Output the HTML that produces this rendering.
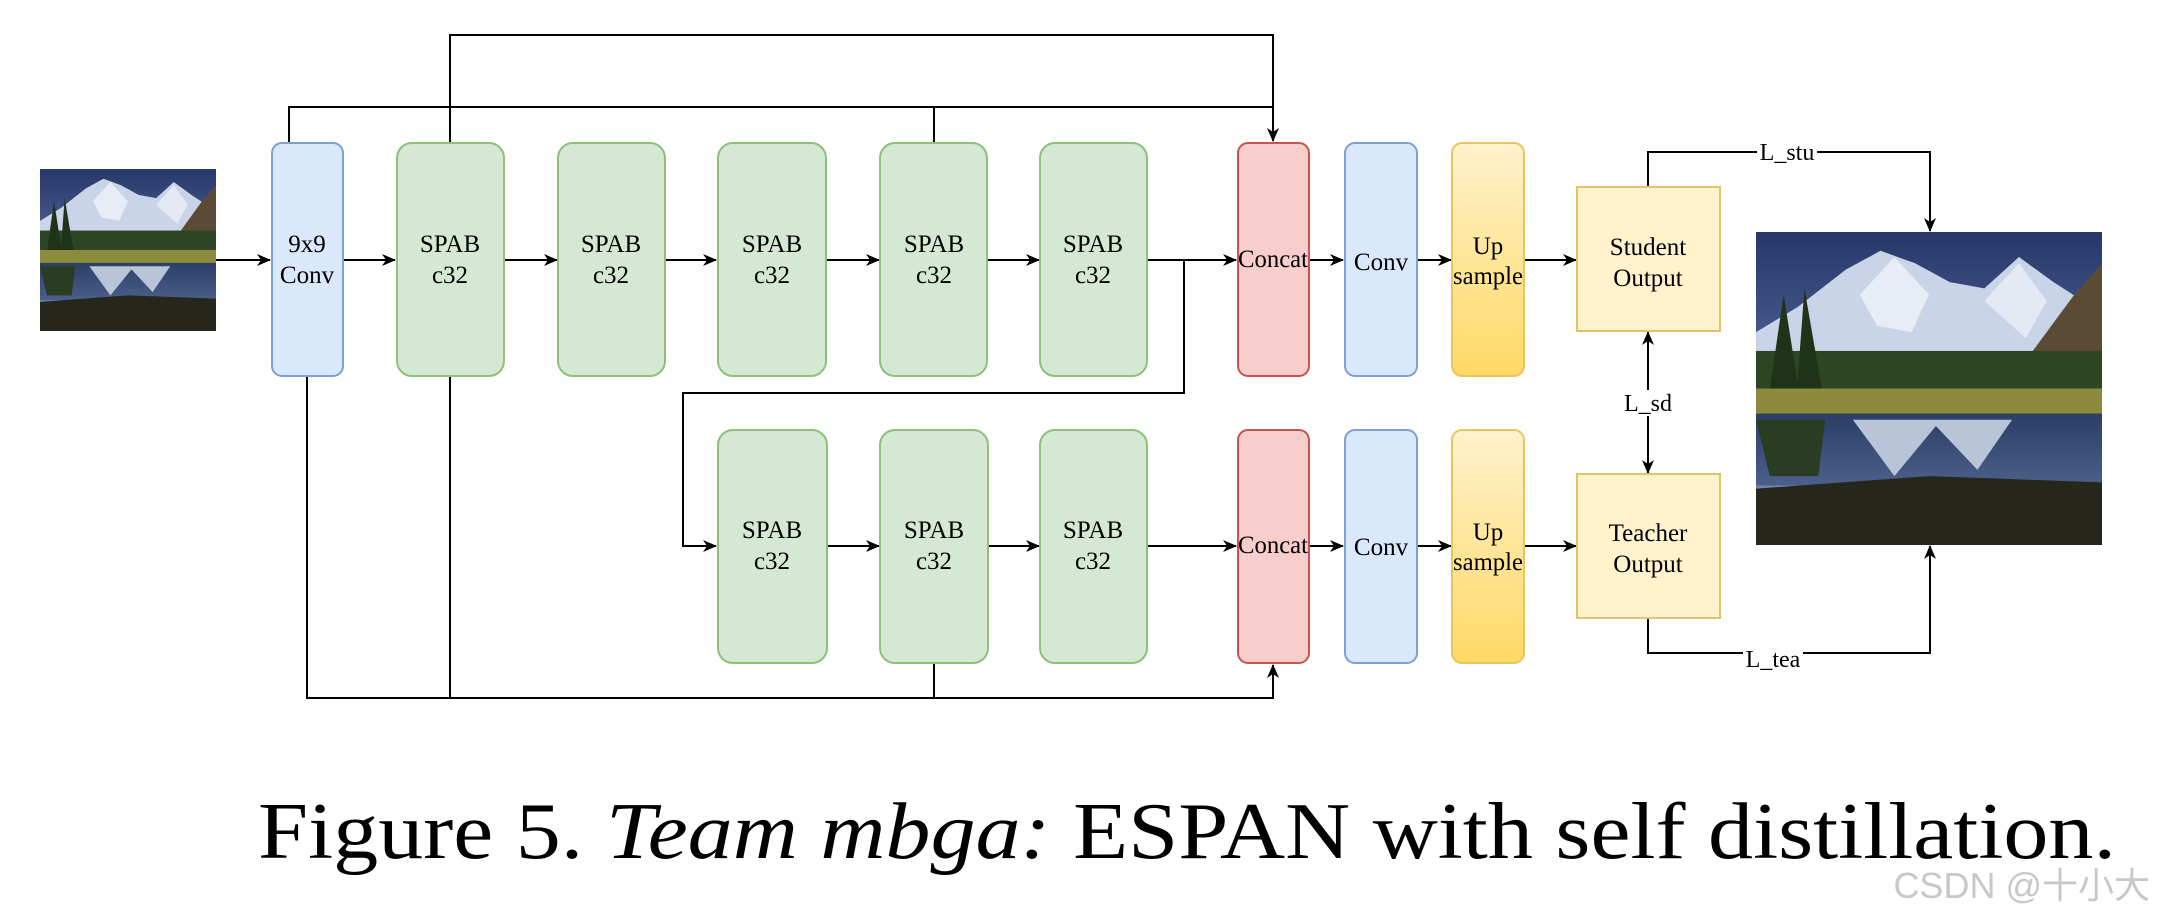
<!DOCTYPE html>
<html><head><meta charset="utf-8"><style>
html,body{margin:0;padding:0;background:#fff;}
svg{display:block;}
text{font-family:"Liberation Serif",serif;fill:#000;}
</style></head><body>
<svg width="2161" height="923" viewBox="0 0 2161 923" xmlns="http://www.w3.org/2000/svg">
<defs>
<marker id="ar" markerWidth="14" markerHeight="12" refX="13" refY="6" orient="auto" markerUnits="userSpaceOnUse">
<path d="M0,0 L14,6 L0,12 L4,6 Z" fill="#000"/>
</marker>
<linearGradient id="up" x1="0" y1="0" x2="0" y2="1"><stop offset="0" stop-color="#fff2cc"/><stop offset="1" stop-color="#ffd966"/></linearGradient>
<linearGradient id="sky" x1="0" y1="0" x2="0" y2="1"><stop offset="0" stop-color="#27376a"/><stop offset="1" stop-color="#7f98c4"/></linearGradient>
<linearGradient id="wat" x1="0" y1="0" x2="0" y2="1"><stop offset="0" stop-color="#2c3e66"/><stop offset="1" stop-color="#4a5f8a"/></linearGradient>
<symbol id="land" viewBox="0 0 100 100" preserveAspectRatio="none">
<rect width="100" height="100" fill="url(#sky)"/>
<polygon points="0,32 12,24 26,12 36,6 46,10 56,16 66,18 76,8 86,16 100,26 100,48 0,48" fill="#c9d4e8"/>
<polygon points="30,20 40,8 50,20 45,32 35,30" fill="#e8edf5"/>
<polygon points="66,22 76,10 84,22 78,34" fill="#e4e9f3"/>
<polygon points="76,44 92,20 100,10 100,48" fill="#5b4a36"/>
<rect y="38" width="100" height="14" fill="#2c4623"/>
<polygon points="4,50 8,20 12,48 14,18 19,50" fill="#1f3318"/>
<rect y="50" width="100" height="9" fill="#8c8a3c"/>
<rect y="58" width="100" height="23" fill="url(#wat)"/>
<polygon points="28,60 40,78 52,62 64,76 74,60" fill="#b9c4d8"/>
<polygon points="0,60 20,60 18,78 4,78" fill="#2a3d22"/>
<polygon points="0,82 50,78 100,80 100,100 0,100" fill="#26271a"/>
</symbol>
</defs>

<svg x="40" y="169" width="176" height="162"><use href="#land" width="176" height="162"/></svg>
<svg x="1756" y="232" width="346" height="313"><use href="#land" width="346" height="313"/></svg>

<g fill="none" stroke="#000" stroke-width="2">
<polyline points="450,143 450,35 1273,35 1273,141" marker-end="url(#ar)"/>
<polyline points="289,143 289,107 1273,107"/>
<line x1="934" y1="143" x2="934" y2="107"/>
<polyline points="307,376 307,698 1273,698 1273,665" marker-end="url(#ar)"/>
<line x1="450" y1="376" x2="450" y2="698"/>
<line x1="934" y1="663" x2="934" y2="698"/>
<line x1="216" y1="260" x2="270" y2="260" marker-end="url(#ar)"/>
<line x1="343" y1="260" x2="395" y2="260" marker-end="url(#ar)"/>
<line x1="504" y1="260" x2="557" y2="260" marker-end="url(#ar)"/>
<line x1="665" y1="260" x2="716" y2="260" marker-end="url(#ar)"/>
<line x1="826" y1="260" x2="879" y2="260" marker-end="url(#ar)"/>
<line x1="987" y1="260" x2="1039" y2="260" marker-end="url(#ar)"/>
<line x1="1147" y1="260" x2="1236" y2="260" marker-end="url(#ar)"/>
<line x1="1309" y1="260" x2="1343" y2="260" marker-end="url(#ar)"/>
<line x1="1417" y1="260" x2="1451" y2="260" marker-end="url(#ar)"/>
<line x1="1524" y1="260" x2="1576" y2="260" marker-end="url(#ar)"/>
<polyline points="1184,260 1184,393 683,393 683,546 716,546" marker-end="url(#ar)"/>
<line x1="827" y1="546" x2="879" y2="546" marker-end="url(#ar)"/>
<line x1="988" y1="546" x2="1039" y2="546" marker-end="url(#ar)"/>
<line x1="1147" y1="546" x2="1236" y2="546" marker-end="url(#ar)"/>
<line x1="1309" y1="546" x2="1343" y2="546" marker-end="url(#ar)"/>
<line x1="1417" y1="546" x2="1451" y2="546" marker-end="url(#ar)"/>
<line x1="1524" y1="546" x2="1576" y2="546" marker-end="url(#ar)"/>
<polyline points="1648,187 1648,152 1930,152 1930,231" marker-end="url(#ar)"/>
<line x1="1648" y1="403" x2="1648" y2="332" marker-end="url(#ar)"/>
<line x1="1648" y1="403" x2="1648" y2="473" marker-end="url(#ar)"/>
<polyline points="1648,618 1648,653 1930,653 1930,546" marker-end="url(#ar)"/>
</g>

<g stroke-width="2">
<rect x="272" y="143" width="71" height="233" rx="10" fill="#dae8fc" stroke="#7e9fd3"/>
<rect x="397" y="143" width="107" height="233" rx="15" fill="#d5e8d4" stroke="#8cc177"/>
<rect x="558" y="143" width="107" height="233" rx="15" fill="#d5e8d4" stroke="#8cc177"/>
<rect x="718" y="143" width="108" height="233" rx="15" fill="#d5e8d4" stroke="#8cc177"/>
<rect x="880" y="143" width="107" height="233" rx="15" fill="#d5e8d4" stroke="#8cc177"/>
<rect x="1040" y="143" width="107" height="233" rx="15" fill="#d5e8d4" stroke="#8cc177"/>
<rect x="1238" y="143" width="71" height="233" rx="10" fill="#f8cecc" stroke="#c9544f"/>
<rect x="1345" y="143" width="72" height="233" rx="10" fill="#dae8fc" stroke="#7e9fd3"/>
<rect x="1452" y="143" width="72" height="233" rx="10" fill="url(#up)" stroke="#e6c65c"/>
<rect x="1577" y="187" width="143" height="144" fill="#fff2cc" stroke="#e0c46a"/>
<rect x="718" y="430" width="109" height="233" rx="15" fill="#d5e8d4" stroke="#8cc177"/>
<rect x="880" y="430" width="108" height="233" rx="15" fill="#d5e8d4" stroke="#8cc177"/>
<rect x="1040" y="430" width="107" height="233" rx="15" fill="#d5e8d4" stroke="#8cc177"/>
<rect x="1238" y="430" width="71" height="233" rx="10" fill="#f8cecc" stroke="#c9544f"/>
<rect x="1345" y="430" width="72" height="233" rx="10" fill="#dae8fc" stroke="#7e9fd3"/>
<rect x="1452" y="430" width="72" height="233" rx="10" fill="url(#up)" stroke="#e6c65c"/>
<rect x="1577" y="474" width="143" height="144" fill="#fff2cc" stroke="#e0c46a"/>
</g>

<g font-size="25" text-anchor="middle">
<text x="307" y="252">9x9</text><text x="307" y="283">Conv</text>
<text x="450" y="252">SPAB</text><text x="450" y="283">c32</text>
<text x="611" y="252">SPAB</text><text x="611" y="283">c32</text>
<text x="772" y="252">SPAB</text><text x="772" y="283">c32</text>
<text x="934" y="252">SPAB</text><text x="934" y="283">c32</text>
<text x="1093" y="252">SPAB</text><text x="1093" y="283">c32</text>
<text x="1273" y="267" textLength="70" lengthAdjust="spacingAndGlyphs">Concat</text>
<text x="1381" y="270">Conv</text>
<text x="1488" y="254">Up</text><text x="1488" y="284" textLength="70" lengthAdjust="spacingAndGlyphs">sample</text>
<text x="1648" y="255">Student</text><text x="1648" y="286">Output</text>
<text x="772" y="538">SPAB</text><text x="772" y="569">c32</text>
<text x="934" y="538">SPAB</text><text x="934" y="569">c32</text>
<text x="1093" y="538">SPAB</text><text x="1093" y="569">c32</text>
<text x="1273" y="553" textLength="70" lengthAdjust="spacingAndGlyphs">Concat</text>
<text x="1381" y="555">Conv</text>
<text x="1488" y="540">Up</text><text x="1488" y="570" textLength="70" lengthAdjust="spacingAndGlyphs">sample</text>
<text x="1648" y="541">Teacher</text><text x="1648" y="572">Output</text>
</g>

<rect x="1757" y="140" width="60" height="24" fill="#fff"/>
<text x="1787" y="160" font-size="24" text-anchor="middle">L_stu</text>
<rect x="1624" y="390" width="48" height="26" fill="#fff"/>
<text x="1648" y="411" font-size="24" text-anchor="middle">L_sd</text>
<rect x="1743" y="643" width="60" height="24" fill="#fff"/>
<text x="1773" y="667" font-size="24" text-anchor="middle">L_tea</text>

<text x="258" y="858" font-size="80" textLength="1858" lengthAdjust="spacingAndGlyphs">Figure 5. <tspan font-style="italic">Team mbga:</tspan> ESPAN with self distillation.</text>
<text x="2150" y="898" font-size="36" text-anchor="end" style="font-family:'Liberation Sans','Noto Sans CJK SC',sans-serif;fill:#c8c8c8">CSDN @十小大</text>
</svg>
</body></html>
